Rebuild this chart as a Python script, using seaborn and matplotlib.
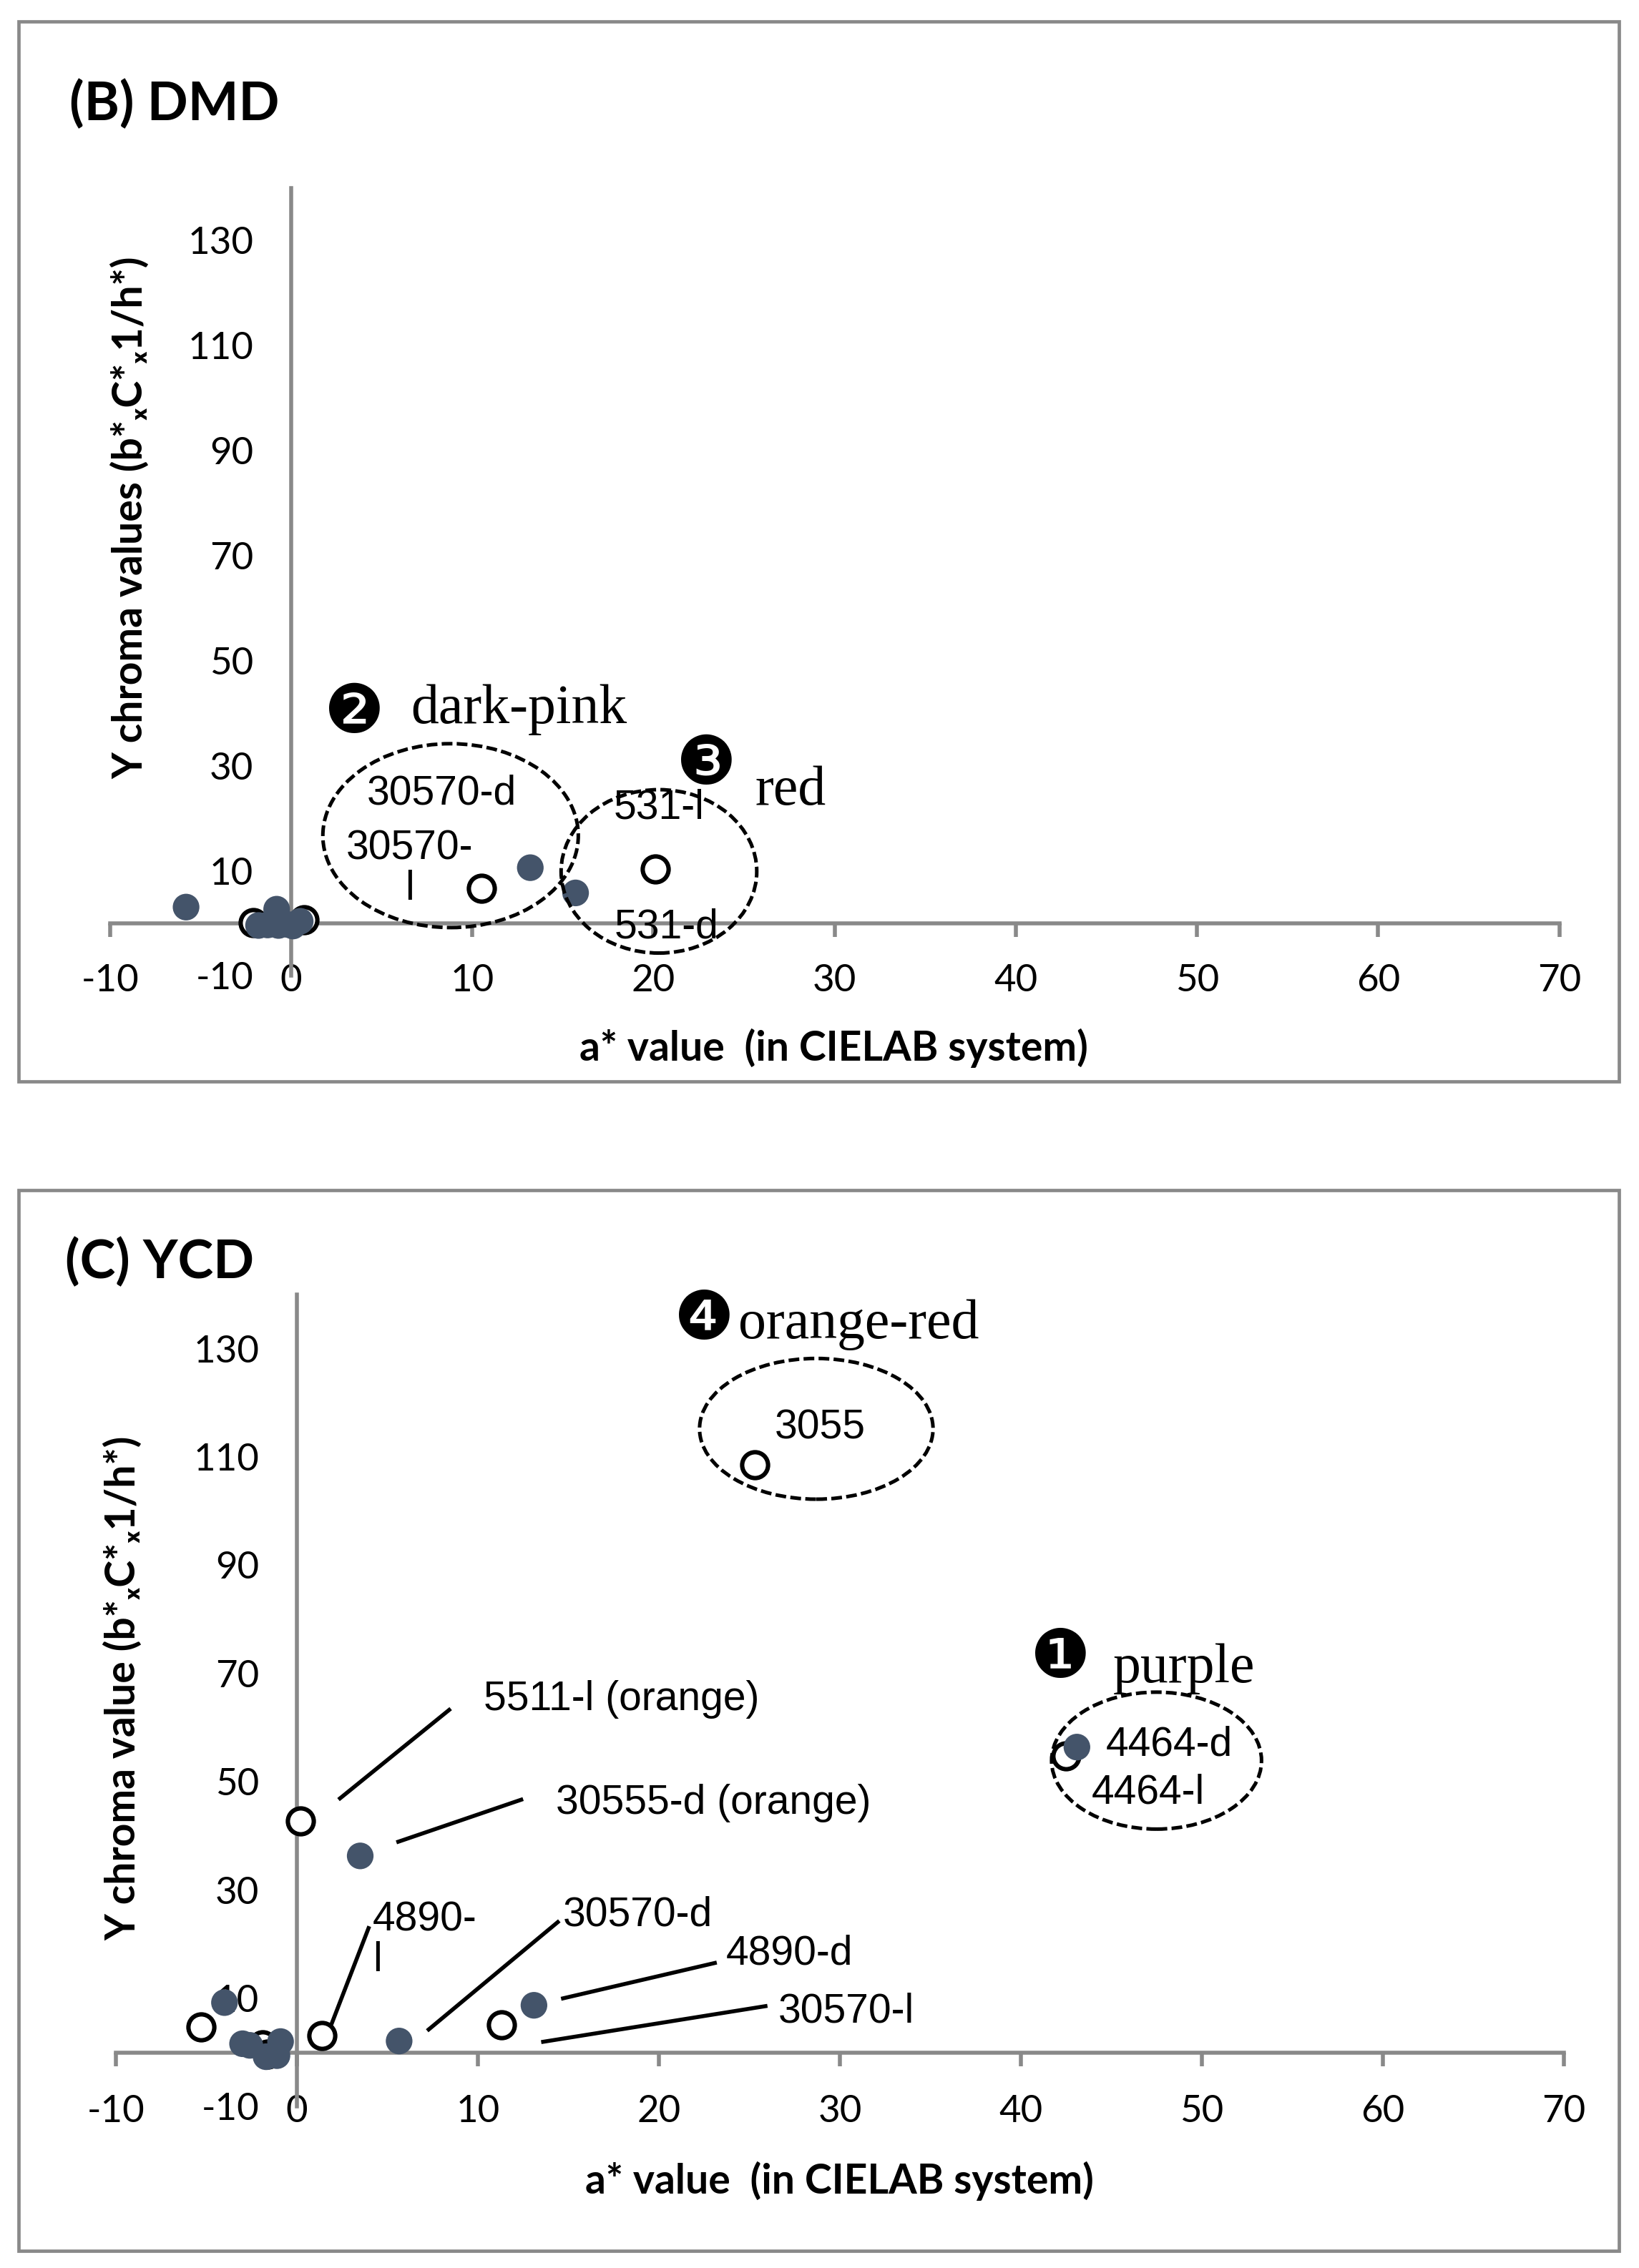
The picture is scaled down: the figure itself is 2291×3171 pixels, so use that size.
import matplotlib
matplotlib.use("Agg")
import matplotlib.pyplot as plt
import seaborn as sns
import pandas as pd
from matplotlib.patches import Ellipse, Rectangle

# ---------------- data ----------------
x_ticks = [-10, 0, 10, 20, 30, 40, 50, 60, 70]
y_ticks = [-10, 10, 30, 50, 70, 90, 110, 130]

# Panel B (DMD)
b_open_x = [-2.1, 0.7, 10.5, 20.1]
b_open_y = [0.2, 0.7, 6.7, 10.4]
b_fill_x = [-5.8, -1.8, -1.3, -0.7, -0.2, 0.1, 0.5, -0.8, 13.2, 15.7]
b_fill_y = [3.1, -0.4, -0.3, -0.4, -0.2, -0.5, 0.4, 2.7, 10.6, 5.8]

# Panel C (YCD)
c_open_x = [-5.3, -1.9, -1.6, 1.4, 11.3, 0.2, 25.3, 42.5]
c_open_y = [4.7, 1.4, -0.3, 3.1, 5.1, 42.7, 108.6, 54.8]
c_fill_x = [-4.0, -3.0, -2.6, -1.7, -1.1, -0.9, 5.65, 13.1, 3.5, 43.1]
c_fill_y = [9.2, 1.6, 1.3, -0.8, -0.6, 2.0, 2.1, 8.7, 36.3, 56.4]

b_point_labels = ["30570-d", "30570-\nl", "531-l", "531-d"]
c_point_labels = ["3055", "4464-d", "4464-l"]
c_leader_labels = ["5511-l (orange)", "30555-d (orange)", "4890-\nl",
                   "30570-d", "4890-d", "30570-l"]
b_groups = ["❷", "dark-pink", "❸", "red"]
c_groups = ["❹", "orange-red", "❶", "purple"]

# ---------------- style ----------------
sns.set_theme(style="white")
plt.rcParams["font.family"] = ["Liberation Sans", "DejaVu Sans"]
plt.rcParams["axes.unicode_minus"] = False

GRAY = "#898989"
FILL = "#44546A"
AX_LW = 2.0
DPI = 200
fig = plt.figure(figsize=(2291 / DPI, 3171 / DPI), dpi=DPI)
fig.patch.set_facecolor("white")

# panel frames
for (x0, y0, x1, y1) in [(0.0115, 0.5233, 0.9876, 0.9904), (0.0115, 0.0077, 0.9876, 0.4754)]:
    fig.patches.append(Rectangle((x0, y0), x1 - x0, y1 - y0, transform=fig.transFigure,
                                 fill=False, edgecolor=GRAY, lw=1.7, zorder=0))

axB = fig.add_axes([0.0671, 0.5697, 0.8843, 0.3475])
axC = fig.add_axes([0.0707, 0.0712, 0.8834, 0.3580])

MS_FILL = 180
MS_OPEN = 170


def draw_points(ax, ox, oy, fx, fy):
    dfo = pd.DataFrame({"a": ox, "y": oy})
    dff = pd.DataFrame({"a": fx, "y": fy})
    sns.scatterplot(data=dfo, x="a", y="y", ax=ax, s=MS_OPEN, facecolor="white",
                    edgecolor="black", linewidth=2.2, zorder=3, clip_on=False)
    sns.scatterplot(data=dff, x="a", y="y", ax=ax, s=MS_FILL, color=FILL,
                    edgecolor="none", linewidth=0, zorder=4, clip_on=False)


def style_axes(ax):
    ax.set_xlim(-10, 70)
    ax.set_ylim(-10, 140)
    ax.set_facecolor("none")
    for s in ["top", "right", "bottom"]:
        ax.spines[s].set_visible(False)
    ax.spines["left"].set_position(("data", 0))
    ax.spines["left"].set_color(GRAY)
    ax.spines["left"].set_linewidth(AX_LW)
    ax.set_xticks(x_ticks)
    ax.set_xticklabels([str(t) for t in x_ticks])
    ax.set_yticks(y_ticks)
    ax.set_yticklabels([str(t) for t in y_ticks])
    ax.tick_params(axis="x", length=0, pad=2.5, labelsize=19, labelcolor="black",
                   labelfontfamily="Lato")
    ax.tick_params(axis="y", direction="in", length=6, width=AX_LW, color=GRAY,
                   pad=19, labelsize=19, labelcolor="black", labelfontfamily="Lato")
    for lbl in ax.get_xticklabels():
        lbl.set_verticalalignment("center")
    ax.set_xlabel("")
    ax.set_ylabel("")
    sec = ax.secondary_xaxis(10 / 150)
    sec.set_xticks(x_ticks)
    sec.tick_params(direction="out", length=7, width=AX_LW, color=GRAY,
                    labelbottom=False)
    sec.spines["bottom"].set_color(GRAY)
    sec.spines["bottom"].set_linewidth(AX_LW)
    ax.grid(False)


draw_points(axB, b_open_x, b_open_y, b_fill_x, b_fill_y)
draw_points(axC, c_open_x, c_open_y, c_fill_x, c_fill_y)
style_axes(axB)
style_axes(axC)

LBL = dict(fontsize=20.5, family=["Liberation Sans", "DejaVu Sans"], color="black", zorder=6)
SERIF = dict(fontsize=28, family="Liberation Serif", color="black", va="baseline", zorder=6)
DING = dict(fontsize=34, family="DejaVu Sans", color="black", ha="center", va="center", zorder=6)
DASH = dict(fill=False, edgecolor="black", lw=1.8, linestyle=(0, (3, 1.2)), zorder=5)

# ---- panel B annotations ----
axB.add_patch(Ellipse((8.8, 16.7), 14.1, 35.0, **DASH))
axB.add_patch(Ellipse((20.3, 9.9), 10.8, 31.1, **DASH))
axB.text(8.3, 24.7, b_point_labels[0], ha="center", va="center", **LBL)
axB.text(6.55, 10.4, b_point_labels[1], ha="center", va="center", multialignment="center",
         linespacing=1.05, **LBL)
axB.text(20.3, 22.0, b_point_labels[2], ha="center", va="center", **LBL)
axB.text(20.7, -0.7, b_point_labels[3], ha="center", va="center", **LBL)
axB.text(3.5, 39.9, b_groups[0], **DING)
axB.text(6.6, 38.1, b_groups[1], ha="left", **SERIF)
axB.text(22.9, 30.1, b_groups[2], **DING)
axB.text(25.6, 22.6, b_groups[3], ha="left", **SERIF)

# ---- panel C annotations ----
axC.add_patch(Ellipse((28.7, 115.2), 12.9, 26.0, **DASH))
axC.add_patch(Ellipse((47.5, 53.9), 11.6, 25.3, **DASH))
axC.text(28.9, 115.4, c_point_labels[0], ha="center", va="center", **LBL)
axC.text(44.7, 56.8, c_point_labels[1], ha="left", va="center", **LBL)
axC.text(43.9, 48.0, c_point_labels[2], ha="left", va="center", **LBL)
axC.text(22.5, 135.3, c_groups[0], **DING)
axC.text(24.4, 131.9, c_groups[1], ha="left", **SERIF)
axC.text(42.2, 72.7, c_groups[2], **DING)
axC.text(45.1, 68.4, c_groups[3], ha="left", **SERIF)

leaders = [((2.3, 46.7), (8.5, 63.5), (10.3, 65.2), "center"),
           ((5.5, 38.8), (12.5, 46.8), (14.3, 46.0), "center"),
           ((1.9, 5.1), (4.0, 23.3), (4.2, 28.0), "top"),
           ((7.2, 4.0), (14.5, 24.3), (14.7, 25.4), "center"),
           ((14.6, 9.9), (23.2, 16.6), (23.7, 18.2), "center"),
           ((13.5, 1.9), (26.0, 8.6), (26.6, 7.5), "center")]
for lab, (p0, p1, tp, va) in zip(c_leader_labels, leaders):
    axC.plot([p0[0], p1[0]], [p0[1], p1[1]], color="black", lw=2.0, zorder=5,
             solid_capstyle="butt")
    axC.text(tp[0], tp[1], lab, ha="left", va=va, linespacing=1.05, **LBL)

# ---- titles & axis labels ----
TB = dict(fontsize=27, family=["Lato", "DejaVu Sans"], weight="bold", color="black")
AL = dict(fontsize=20.5, family=["Lato", "DejaVu Sans"], weight="bold", color="black")
fig.text(0.0424, 0.954, "(B) DMD", ha="left", va="center", **TB)
fig.text(0.0398, 0.4435, "(C) YCD", ha="left", va="center", **TB)
fig.text(0.5088, 0.538, "a* value  (in CIELAB system)", ha="center", va="center", **AL)
fig.text(0.5124, 0.0383, "a* value  (in CIELAB system)", ha="center", va="center", **AL)
fig.text(0.0795, 0.7719, "Y chroma values (b*ₓC*ₓ1/h*)", ha="center", va="center",
         rotation=90, **AL)
fig.text(0.0751, 0.2556, "Y chroma value (b*ₓC*ₓ1/h*)", ha="center", va="center",
         rotation=90, **AL)

fig.savefig("out.png", dpi=DPI, facecolor="white")
